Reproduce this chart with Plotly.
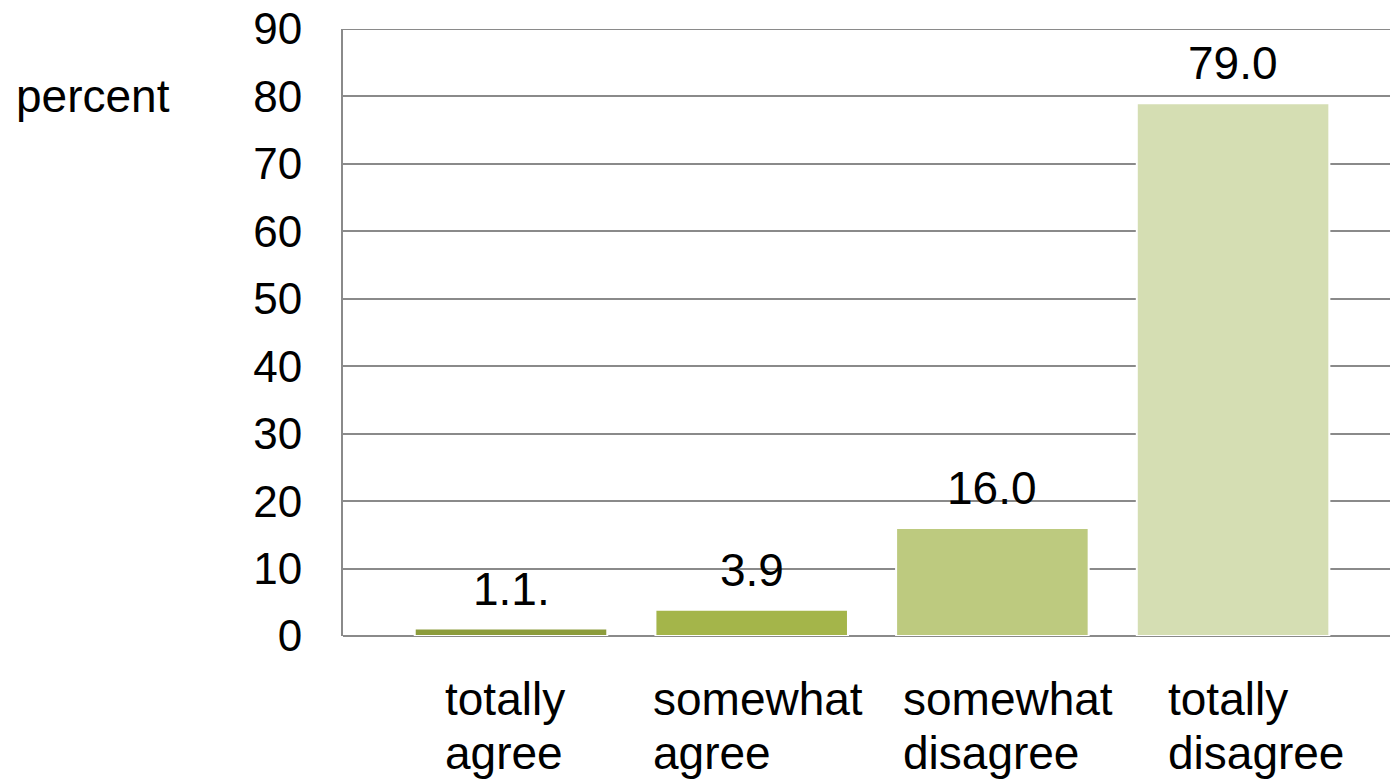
import plotly.graph_objects as go

# Survey response shares (percent)
categories = ["totally agree", "somewhat agree", "somewhat disagree", "totally disagree"]
label_line1 = ["totally", "somewhat", "somewhat", "totally"]
label_line2 = ["agree", "agree", "disagree", "disagree"]
values = [1.1, 3.9, 16.0, 79.0]
value_labels = ["1.1.", "3.9", "16.0", "79.0"]
bar_colors = ["#8c9c3c", "#a4b54a", "#bdca7f", "#d5deb3"]
y_ticks = [0, 10, 20, 30, 40, 50, 60, 70, 80, 90]

FONT = "Liberation Sans, Arial, sans-serif"
GRID = "#8a8a8a"
x_pos = list(range(len(categories)))
# left edge of each two-line category label, in px relative to the bar centre
label_left = [-66, -99, -89, -65]

fig = go.Figure()
fig.add_trace(go.Bar(
    x=x_pos,
    y=values,
    width=0.8,
    marker=dict(color=bar_colors, line=dict(color="white", width=2)),
    hoverinfo="skip",
))

# value labels above each bar
for xi, v, lab in zip(x_pos, values, value_labels):
    fig.add_annotation(x=xi, y=v, text=lab, showarrow=False, yanchor="bottom",
                       yshift=12, font=dict(size=46, color="black", family=FONT))

# two-line category labels under the axis, both lines left-aligned
for xi, l1, l2, dx in zip(x_pos, label_line1, label_line2, label_left):
    for txt, dy in ((l1, -63), (l2, -117)):
        fig.add_annotation(x=xi, y=0, yref="paper", text=txt, showarrow=False,
                           xanchor="left", yanchor="middle", yshift=dy, xshift=dx - 2,
                           font=dict(size=46, color="black", family=FONT))

# axis title placed to the left of the tick labels
fig.add_annotation(x=(14 - 343) / 1047, xref="paper", y=80, yref="y", text="percent",
                   showarrow=False, xanchor="left", yanchor="middle",
                   font=dict(size=46, color="black", family=FONT))

# gridline along the top of the value range
fig.add_shape(type="line", xref="paper", x0=0, x1=1, yref="y", y0=90, y1=90,
              line=dict(color=GRID, width=2), layer="below")

fig.update_layout(
    width=1390, height=784,
    margin=dict(l=343, r=0, t=29, b=148),
    paper_bgcolor="white", plot_bgcolor="white",
    showlegend=False,
)
fig.update_xaxes(range=[-0.698, 3.652], showticklabels=False, showgrid=False,
                 zeroline=False, showline=False, ticks="")
fig.update_yaxes(range=[0, 90], tickvals=y_ticks, ticktext=[str(t) for t in y_ticks],
                 showgrid=True, gridcolor=GRID, gridwidth=2,
                 showline=True, linecolor=GRID, linewidth=2,
                 zeroline=True, zerolinecolor=GRID, zerolinewidth=2,
                 ticks="", ticklabelstandoff=30,
                 tickfont=dict(size=44, color="black", family=FONT))

fig.write_html("out.html")
